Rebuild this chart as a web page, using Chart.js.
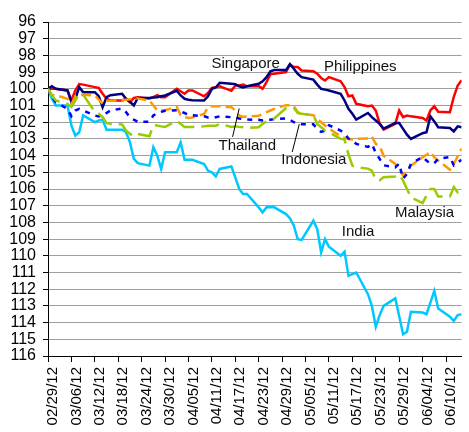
<!DOCTYPE html>
<html>
<head>
<meta charset="utf-8">
<script src="https://cdn.jsdelivr.net/npm/chart.js"></script>
<style>
  body { margin: 0; background: #fff; }
  canvas { display: block; }
</style>
</head>
<body>
<canvas id="fxChart" width="469" height="432"></canvas>
<script>
/*
-------------------------------------
/// data (index, 02/29/12 = 100, inverted axis)
-------------------------------------
*/
// days counted from 02/29/12, trading days only
const tradingDays = [0,1,2,
  5,6,7,8,9, 12,13,14,15,16, 19,20,21,22,23, 26,27,28,29,30,
  33,34,35,36,37, 40,41,42,43,44, 47,48,49,50,51, 54,55,56,57,58,
  61,62,63,64,65, 68,69,70,71,72, 75,76,77,78,79, 82,83,84,85,86,
  89,90,91,92,93, 96,97,98,99,100, 103,104,105,106];

const tickLabels = ['02/29/12','03/06/12','03/12/12','03/18/12','03/24/12','03/30/12',
  '04/05/12','04/11/12','04/17/12','04/23/12','04/29/12','05/05/12','05/11/12',
  '05/17/12','05/23/12','05/29/12','06/04/12','06/10/12'];

const india = [100, 100.6, 101,
  101, 102.2, 102.8, 102.6, 101.6,
  102.0, 101.9, 101.85, 102.45, 102.45,
  102.45, 102.6, 103.2, 104.2, 104.45,
  104.6, 103.5, 104.0, 104.8, 103.8,
  103.8, 103.2, 104.25, 104.25, 104.25,
  104.5, 104.9, 105.0, 105.25, 104.8,
  104.65, 105.3, 106.0, 106.3, 106.3,
  107.1, 107.4, 107.1, 107.1, 107.1,
  107.5, 107.75, 108.2, 109.0, 109.05,
  107.9, 108.4, 109.8, 109.0, 109.45,
  110.0, 109.75, 111.2, 111.1, 111.0,
  112.3, 113.0, 114.25, 113.55, 113.0,
  112.55, 113.6, 114.7, 114.55, 113.35,
  113.4, 113.5, 112.8, 112.1, 113.15,
  113.65, 113.9, 113.55, 113.5];

const philippines = [100, 100, 100,
  100.1, 100.7, 100.1, 99.72, 99.75,
  99.9, 99.95, 100.3, 100.6, 100.7,
  100.7, 100.6, 100.8, 100.55, 100.5,
  100.58, 100.5, 100.38, 100.5, 100.5,
  100.0, 100.15, 100.3, 100.1, 100.1,
  100.45, 100.25, 99.95, 99.9, 99.85,
  100.12, 99.8, 99.8, 99.75, 99.85,
  99.84, 100.0, 99.6, 99.12, 99.1,
  99.0, 98.55, 98.7, 98.7, 98.9,
  98.95, 99.1, 99.35, 99.5, 99.3,
  99.55, 99.9, 100.45, 100.4, 100.9,
  101.04, 101.0, 101.3, 102.08, 102.45,
  102.1, 101.3, 101.7, 101.6, 101.65,
  101.75, 101.9, 101.3, 101.05, 101.38,
  101.4, 100.48, 99.8, 99.48];

const singapore = [100, 99.85, 100.0,
  100.1, 100.8, 100.6, 99.9, 100.2,
  100.2, 100.44, 101.1, 100.5, 100.38,
  100.3, 100.6, 100.78, 101.0, 100.55,
  100.55, 100.52, 100.5, 100.45, 100.4,
  100.12, 100.4, 100.6, 100.65, 100.68,
  100.7, 100.45, 100.0, 99.92, 99.64,
  99.7, 99.72, 99.85, 99.92, 99.85,
  99.7, 99.55, 99.3, 98.95, 98.88,
  98.88, 98.52, 98.8, 99.1, 99.3,
  99.45, 99.75, 100.0, 100.05, 100.1,
  100.3, 100.7, 101.2, 101.5, 101.85,
  101.45, 101.7, 101.9, 102.1, 102.38,
  102.05, 102.05, 102.4, 102.75, 103.0,
  102.66, 102.6, 101.65, 101.95, 102.3,
  102.35, 102.55, 102.25, 102.3];

const thailand = [100, 100.38, 100.38,
  100.6, 100.92, 100.45, 100.38, 100.35,
  100.4, 100.64, 100.9, 100.72, 100.72,
  100.68, 100.65, 100.62, 100.6, 100.58,
  100.7, 101.0, 101.28, 101.28, 101.28,
  101.08, 101.58, 101.7, 101.75, 101.72,
  101.5, 101.1, 101.04, 101.04, 101.04,
  101.1, 101.3, 101.6, 101.68, 101.65,
  101.62, 101.5, 101.4, 101.3, 101.2,
  100.98, 100.98, 101.04, 101.4, 101.5,
  101.58, 101.8, 102.0, 102.2, 102.38,
  102.84, 102.95, 103.0, 103.04, 103.0,
  102.98, 102.85, 103.3, 103.44, 104.0,
  104.5, 104.84, 105.18, 104.88, 104.6,
  104.1, 103.95, 103.78, 104.1, 104.3,
  104.84, 104.5, 104.04, 103.58];

const malaysia = [100, 100.4, 100.7,
  100.9, 101.08, 100.7, 100.3, 100.35,
  101.38, 101.48, 101.7, 102.04, 102.1,
  102.14, 102.5, 102.7, 102.84, 102.7,
  102.84, 102.18, 102.2, 102.25, 102.28,
  101.92, 102.1, 102.28, 102.28, 102.28,
  102.25, 102.22, 102.22, 102.22, 102.1,
  102.28, 102.25, 102.28, 102.3, 102.35,
  102.3, 102.1, 101.95, 101.9, 101.78,
  101.15, 101.1, 101.14, 101.45, 101.5,
  101.58, 102.1, 102.3, 102.5, 102.6,
  103.0, 103.04, 103.92, 104.6, 104.7,
  104.78, 104.9, 105.45, 105.48, 105.3,
  105.25, 105.15, 105.5, 106.0, 106.5,
  106.85, 106.4, 106.0, 106.0, 106.45,
  106.45, 105.88, 106.2, 106.15];

const indonesia = [100, 100.5, 100.8,
  101.2, 101.64, 101.3, 101.2, 101.3,
  101.6, 101.65, 101.6, 101.45, 101.3,
  101.18, 101.4, 101.7, 101.85, 101.98,
  101.98, 101.6, 101.45, 101.38, 101.32,
  101.28, 101.35, 101.45, 101.55, 101.58,
  101.65, 101.72, 101.72, 101.7, 101.65,
  101.7, 101.72, 101.78, 101.82, 101.84,
  101.86, 101.9, 101.88, 101.85, 101.8,
  101.78, 101.85, 102.0, 102.1, 102.12,
  102.12, 102.4, 102.58, 102.5, 102.18,
  102.5, 102.68, 102.98, 103.08, 103.3,
  103.48, 103.3, 103.84, 104.2, 104.58,
  104.7, 104.48, 105.38, 105.1, 104.5,
  104.08, 104.3, 104.48, 104.45, 104.2,
  104.08, 104.58, 104.4, 104.25];

/*
-------------------------------------
/// series labels drawn on the plot
-------------------------------------
*/
// [text, day, value]  (left edge, baseline)
const seriesLabels = [
  ['Singapore', 41.9, 98.78],
  ['Philippines', 70.75, 98.93],
  ['Thailand', 43.7, 103.68],
  ['Indonesia', 59.8, 104.48],
  ['Malaysia', 88.9, 107.7],
  ['India', 75.3, 108.84]
];
// leader lines [day1, value1, day2, value2]
const leaders = [
  [49.0, 101.18, 47.3, 102.88],
  [64.4, 102.12, 62.6, 103.78]
];

function toPoints(values) {
  return values.map((v, i) => ({ x: tradingDays[i], y: v }));
}

const labelPlugin = {
  id: 'seriesLabels',
  afterDatasetsDraw(chart) {
    const ctx = chart.ctx;
    const xs = chart.scales.x;
    const ys = chart.scales.y;
    ctx.save();
    ctx.strokeStyle = '#000';
    ctx.lineWidth = 1;
    leaders.forEach(l => {
      ctx.beginPath();
      ctx.moveTo(xs.getPixelForValue(l[0]), ys.getPixelForValue(l[1]));
      ctx.lineTo(xs.getPixelForValue(l[2]), ys.getPixelForValue(l[3]));
      ctx.stroke();
    });
    ctx.fillStyle = '#111';
    ctx.font = "15px 'Liberation Sans', Arial, sans-serif";
    ctx.textAlign = 'left';
    ctx.textBaseline = 'alphabetic';
    seriesLabels.forEach(s => {
      ctx.fillText(s[0], xs.getPixelForValue(s[1]), ys.getPixelForValue(s[2]));
    });
    ctx.restore();
  }
};

/*
-------------------------------------
/// chart
-------------------------------------
*/
Chart.defaults.font.family = "'Liberation Sans', Arial, sans-serif";
Chart.defaults.font.size = 15;
Chart.defaults.color = '#000';

function line(label, values, color, dash) {
  return {
    label: label,
    data: toPoints(values),
    borderColor: color,
    backgroundColor: color,
    borderWidth: 2.5,
    borderDash: dash || [],
    pointRadius: 0,
    tension: 0,
    fill: false
  };
}

var ctx = document.getElementById('fxChart').getContext('2d');
var fxChart = new Chart(ctx, {
  type: 'line',
  data: {
    datasets: [
      line('Malaysia', malaysia, '#99CC00', [18, 7]),
      line('Indonesia', indonesia, '#0000FF', [5, 6]),
      line('Thailand', thailand, '#FF9900', [10, 5]),
      line('India', india, '#00C8FF'),
      line('Singapore', singapore, '#000080'),
      line('Philippines', philippines, '#FF0000')
    ]
  },
  options: {
    responsive: false,
    animation: false,
    devicePixelRatio: 1,
    layout: { padding: { top: 22, right: 0, bottom: 0, left: 0 } },
    plugins: {
      legend: { display: false },
      tooltip: { enabled: false }
    },
    scales: {
      x: {
        type: 'linear',
        min: 0,
        max: 106,
        border: { color: '#000', width: 1 },
        grid: { drawOnChartArea: false, tickLength: 6, tickColor: '#000' },
        ticks: {
          autoSkip: false,
          minRotation: 90,
          maxRotation: 90,
          padding: 5,
          labelOffset: 5,
          callback: (value) => tickLabels[value / 6]
        },
        afterBuildTicks: (scale) => {
          scale.ticks = tickLabels.map((lbl, i) => ({ value: i * 6 }));
        },
        afterFit: (scale) => { scale.height = 76; }
      },
      y: {
        reverse: true,
        min: 96,
        max: 116,
        border: { color: '#000', width: 1 },
        grid: { color: '#a0a0a0', lineWidth: 1, tickLength: 5, tickColor: '#000' },
        ticks: { stepSize: 1, autoSkip: false, padding: 7, font: { size: 16 } },
        afterFit: (scale) => { scale.width = 48; }
      }
    }
  },
  plugins: [labelPlugin]
});
</script>
</body>
</html>
